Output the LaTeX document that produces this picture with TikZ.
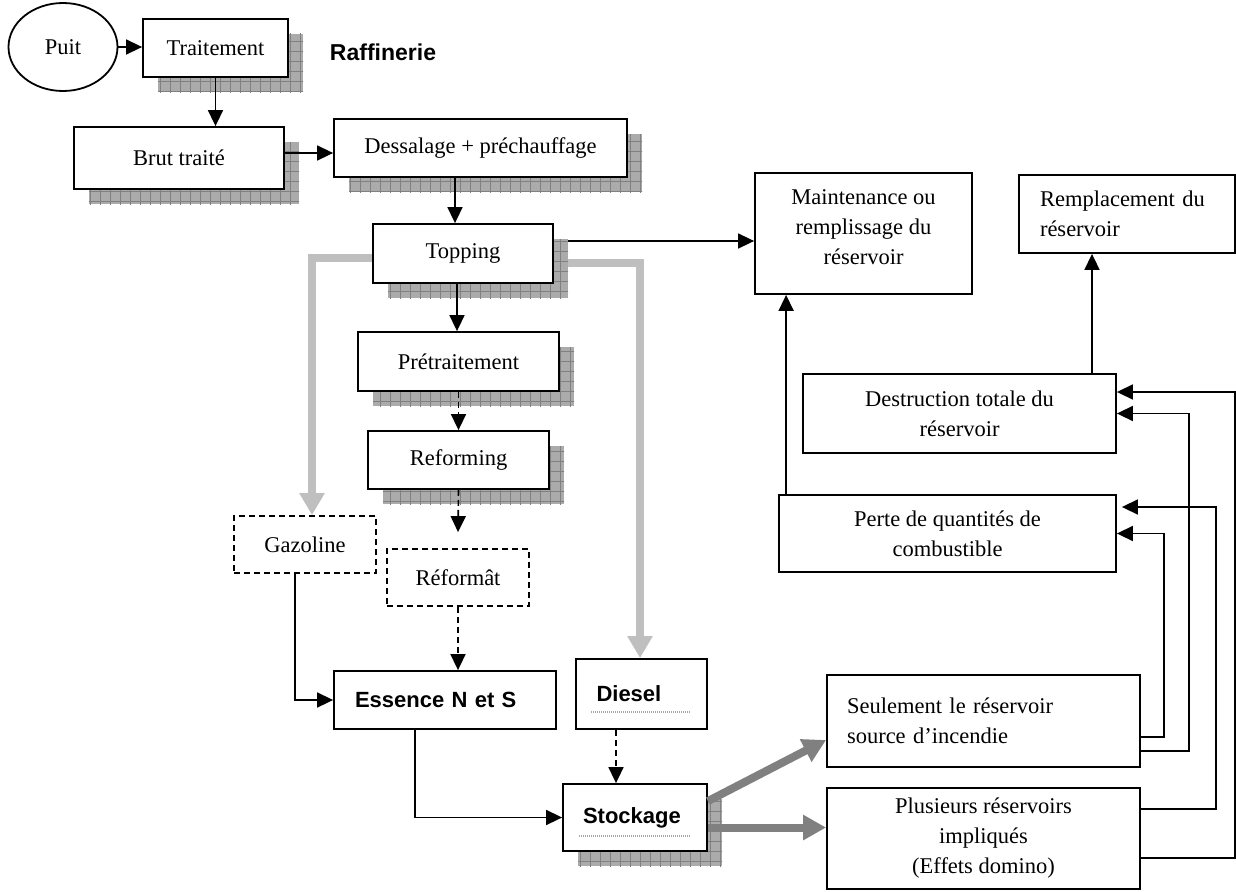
\documentclass[tikz,border=0pt]{standalone}
\usepackage{fontspec}
\setmainfont{Liberation Serif}
\setsansfont{Liberation Sans}
\usetikzlibrary{arrows.meta,shapes.geometric,shadows,patterns.meta,backgrounds}
\newcommand\boxfont{\fontsize{22.5}{30}\selectfont}
\tikzset{
  box/.style={draw,line width=1.8pt,fill=white,font=\boxfont,inner sep=3pt},
  shbox/.style={box,
    general shadow={fill=black!33,shadow xshift=15pt,shadow yshift=-15pt},
    general shadow={pattern={Hatch[angle=0,distance=10pt,line width=0.7pt]},pattern color=black!50,shadow xshift=15pt,shadow yshift=-15pt}},
  dbox/.style={box,dash pattern=on 6pt off 4pt},
  bsans/.style={font=\sffamily\bfseries\fontsize{22}{26}\selectfont},
  arr/.style={line width=1.6pt,-{Triangle[length=16pt,width=15pt]}},
  darr/.style={arr,dash pattern=on 6pt off 4pt},
  lgarr/.style={line width=8pt,black!25,-{Triangle[length=22pt,width=24pt]}},
  dgarr/.style={line width=8pt,black!50,-{Triangle[length=23pt,width=24pt]}},
  uline/.style={black!35,line width=1.6pt,dash pattern=on 1pt off 1pt}
}

\begin{document}
\begin{tikzpicture}[x=1pt,y=-1pt]
\useasboundingbox (0,0) rectangle (1236,891);
% chaine de raffinage
\node[draw,ellipse,line width=1.8pt,minimum width=109pt,minimum height=88pt,font=\boxfont] (puit) at (63,47) {Puit};
\node[shbox,minimum width=145pt,minimum height=58pt] (trait) at (215.5,48) {Traitement};
\node[bsans,font=\sffamily\bfseries\fontsize{23}{26}\selectfont] (raff) at (383,52) {Raffinerie};
\node[shbox,minimum width=210pt,minimum height=62pt] (brut) at (179,158) {Brut traité};
\node[shbox,minimum width=293pt,minimum height=58pt] (dessal) at (480.5,148) {Dessalage + préchauffage};
\node[shbox,minimum width=180pt,minimum height=59pt] (topping) at (463,253.5) {Topping};
\node[shbox,minimum width=201pt,minimum height=59pt] (pretr) at (458.5,361.5) {Prétraitement};
\node[shbox,minimum width=181pt,minimum height=58pt] (reform) at (458.5,460) {Reforming};
\node[dbox,minimum width=142pt,minimum height=57pt] (gazo) at (305,544.5) {Gazoline};
\node[dbox,minimum width=142pt,minimum height=57pt] (reformat) at (458,577.5) {Réformât};
\node[box,bsans,text width=180pt,align=left,minimum width=222pt,minimum height=58pt] (essence) at (445,700) {Essence N et S};
\node[box,bsans,text width=90pt,align=left,minimum width=131pt,minimum height=70pt] (diesel) at (641.5,694) {Diesel};
\node[shbox,bsans,text width=104pt,align=left,minimum width=144pt,minimum height=67pt] (stock) at (635,817.5) {Stockage};
\draw[uline] (591,712) -- (691,712);
\draw[uline] (579,836) -- (690,836);
% consequences
\node[box,align=center,minimum width=217pt,minimum height=121pt] (maint) at (863.5,233.5) {Maintenance ou\\remplissage du\\réservoir\\[-18pt]};
\node[box,text width=174pt,align=left,minimum width=216pt,minimum height=78pt] (rempl) at (1127,214) {Remplacement du\\réservoir};
\node[box,align=center,minimum width=313pt,minimum height=79pt] (destr) at (959.5,413.5) {Destruction totale du\\réservoir};
\node[box,align=center,minimum width=337pt,minimum height=77pt] (perte) at (947.5,533.5) {Perte de quantités de\\combustible};
\node[box,text width=273pt,align=left,minimum width=313pt,minimum height=92pt] (seul) at (983.5,721) {Seulement le réservoir\\source d’incendie};
\node[box,align=center,minimum width=313pt,minimum height=101pt] (plus) at (983.5,838.5) {Plusieurs réservoirs\\impliqués\\(Effets domino)};

\draw[arr] (puit.east) -- (puit.east -| trait.west);
\draw[arr] (trait.south) -- (trait.south |- brut.north);
\draw[arr] ([yshift=5pt]brut.east) -- ([yshift=5pt]brut.east -| dessal.west);
\draw[arr] ([xshift=-8pt]topping.north |- dessal.south) -- ([xshift=-8pt]topping.north);
\draw[arr] ([xshift=-6pt]topping.south) -- ([xshift=-6pt]topping.south |- pretr.north);
\draw[darr] (pretr.south) -- (reform.north);
\draw[darr] (reform.south) -- ([yshift=16pt]reformat.north);
\draw[darr] (reformat.south) -- (reformat.south |- essence.north);
\draw[arr] ([xshift=-10pt]gazo.south) |- (essence.west);
\draw[arr] ([xshift=-30pt]essence.south) |- (stock.west);
\draw[darr] ([xshift=-25.5pt]diesel.south) -- ([xshift=-25.5pt]diesel.south |- stock.north);
\draw[dgarr] ([yshift=-18pt]stock.north east) -- ([yshift=-19pt]seul.west);
\draw[dgarr] ([yshift=-10pt]stock.east) -- ([yshift=-10pt]stock.east -| plus.west);
\draw[arr] ([xshift=8pt]perte.north west) -- ([xshift=8pt]perte.north west |- maint.south);
\draw[arr] ([xshift=-35pt]rempl.south |- destr.north) -- ([xshift=-35pt]rempl.south);
\draw[arr] ([yshift=-16pt]seul.east) -- ++(23,0) |- (perte.east);
\draw[arr] ([yshift=-30pt]seul.east) -- ++(48,0) |- (destr.east);
\draw[arr] ([yshift=29.5pt]plus.east) -- ++(75,0) |- ([xshift=5pt,yshift=26.5pt]perte.east);
\draw[arr] ([yshift=-19.5pt]plus.east) -- ++(94,0) |- ([yshift=21.5pt]destr.east);

\begin{scope}[on background layer]
\draw[lgarr] ([yshift=-4.5pt]topping.west) -| ([xshift=7pt]gazo.north);
\draw[lgarr] ([yshift=-9.5pt]topping.east) -| ([xshift=-1.5pt]diesel.north);
\draw[arr] ([yshift=12.5pt]topping.east) -- ([yshift=12.5pt]topping.east -| maint.west);
\end{scope}
\end{tikzpicture}
\end{document}
